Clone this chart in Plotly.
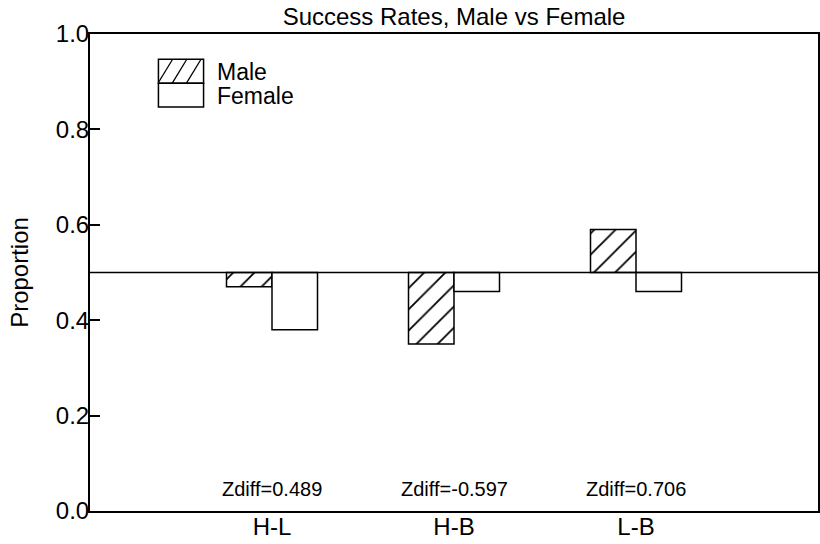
import plotly.graph_objects as go

# data
categories = ["H-L", "H-B", "L-B"]
male = [0.47, 0.35, 0.59]
female = [0.38, 0.46, 0.46]
zdiff = ["Zdiff=0.489", "Zdiff=-0.597", "Zdiff=0.706"]
legend_names = ["Male", "Female"]
baseline = 0.5
zdiff_y = 0.046

FONT = "Liberation Sans, Arial, Helvetica, sans-serif"

fig = go.Figure()

fig.add_trace(
    go.Bar(
        x=categories,
        y=[v - baseline for v in male],
        base=baseline,
        name=legend_names[0],
        marker=dict(
            color="white",
            line=dict(color="black", width=1.5),
            pattern=dict(shape="/", fgcolor="black", bgcolor="white",
                         fgopacity=1, size=15, solidity=0.12),
        ),
    )
)

fig.add_trace(
    go.Bar(
        x=categories,
        y=[v - baseline for v in female],
        base=baseline,
        name=legend_names[1],
        marker=dict(color="white", line=dict(color="black", width=1.5)),
    )
)

# reference line at 0.5
fig.add_hline(y=baseline, line_color="black", line_width=1.5)

# Zdiff labels
for cat, txt in zip(categories, zdiff):
    fig.add_annotation(
        x=cat, y=zdiff_y, text=txt, showarrow=False,
        font=dict(size=20, color="black", family=FONT),
    )

# -------------------------
# CUSTOM LEGEND (two stacked boxes)
# -------------------------
fig.add_shape(
    type="rect", xref="paper", yref="paper",
    x0=0.094, x1=0.156, y0=0.897, y1=0.947,
    line=dict(color="black", width=1.5),
    fillcolor="white", layer="above",
)
fig.add_shape(
    type="rect", xref="paper", yref="paper",
    x0=0.094, x1=0.156, y0=0.847, y1=0.897,
    line=dict(color="black", width=1.5),
    fillcolor="white", layer="above",
)
# hatch lines for the male legend box
for k in range(4):
    x_start = 0.094 + k * 0.0195 - 0.02
    xa = max(x_start, 0.094)
    xb = min(x_start + 0.02, 0.156)
    fig.add_shape(
        type="line", xref="paper", yref="paper",
        x0=xa, y0=0.897 + (xa - x_start) * 2.5,
        x1=xb, y1=0.897 + (xb - x_start) * 2.5,
        line=dict(color="black", width=1.3), layer="above",
    )
for name, ypos in zip(legend_names, [0.921, 0.872]):
    fig.add_annotation(
        xref="paper", yref="paper", x=0.172, y=ypos, text=name,
        showarrow=False, xanchor="left", yanchor="middle", align="left",
        height=23, font=dict(size=23, color="black", family=FONT),
    )

# -------------------------
# STYLE
# -------------------------
fig.update_layout(
    width=820,
    height=544,
    margin=dict(l=90, r=2, t=34, b=33, autoexpand=False),
    paper_bgcolor="white",
    plot_bgcolor="white",
    barmode="group",
    bargap=0.5,
    bargroupgap=0,
    showlegend=False,
    font=dict(family=FONT, color="black"),
    title=dict(
        text="Success Rates, Male vs Female",
        x=0.5537, xanchor="center", y=0.969, yanchor="middle",
        font=dict(size=24, color="black", family=FONT),
    ),
    xaxis=dict(
        type="category",
        range=[-1, 3],
        automargin=False,
        showgrid=False,
        zeroline=False,
        showline=True, linecolor="black", linewidth=2, mirror=True,
        ticks="",
        ticklabelstandoff=-7,
        tickfont=dict(size=24, color="black"),
    ),
    yaxis=dict(
        range=[0, 1],
        automargin=False,
        tickvals=[0, 0.2, 0.4, 0.6, 0.8, 1.0],
        ticktext=["0.0", "0.2", "0.4", "0.6", "0.8", "1.0"],
        showgrid=False,
        zeroline=False,
        showline=True, linecolor="black", linewidth=2, mirror=True,
        ticks="inside", ticklen=10, tickwidth=1.5, tickcolor="black",
        ticklabelstandoff=-6,
        tickfont=dict(size=24, color="black"),
        title=dict(text="Proportion", font=dict(size=24, color="black"), standoff=20),
    ),
)

# page body has a default 8px margin; remove it so the 820x544 figure fills the window
fig.write_html(
    "out.html",
    config={"displayModeBar": False},
    post_script="document.body.style.margin='0';",
)
